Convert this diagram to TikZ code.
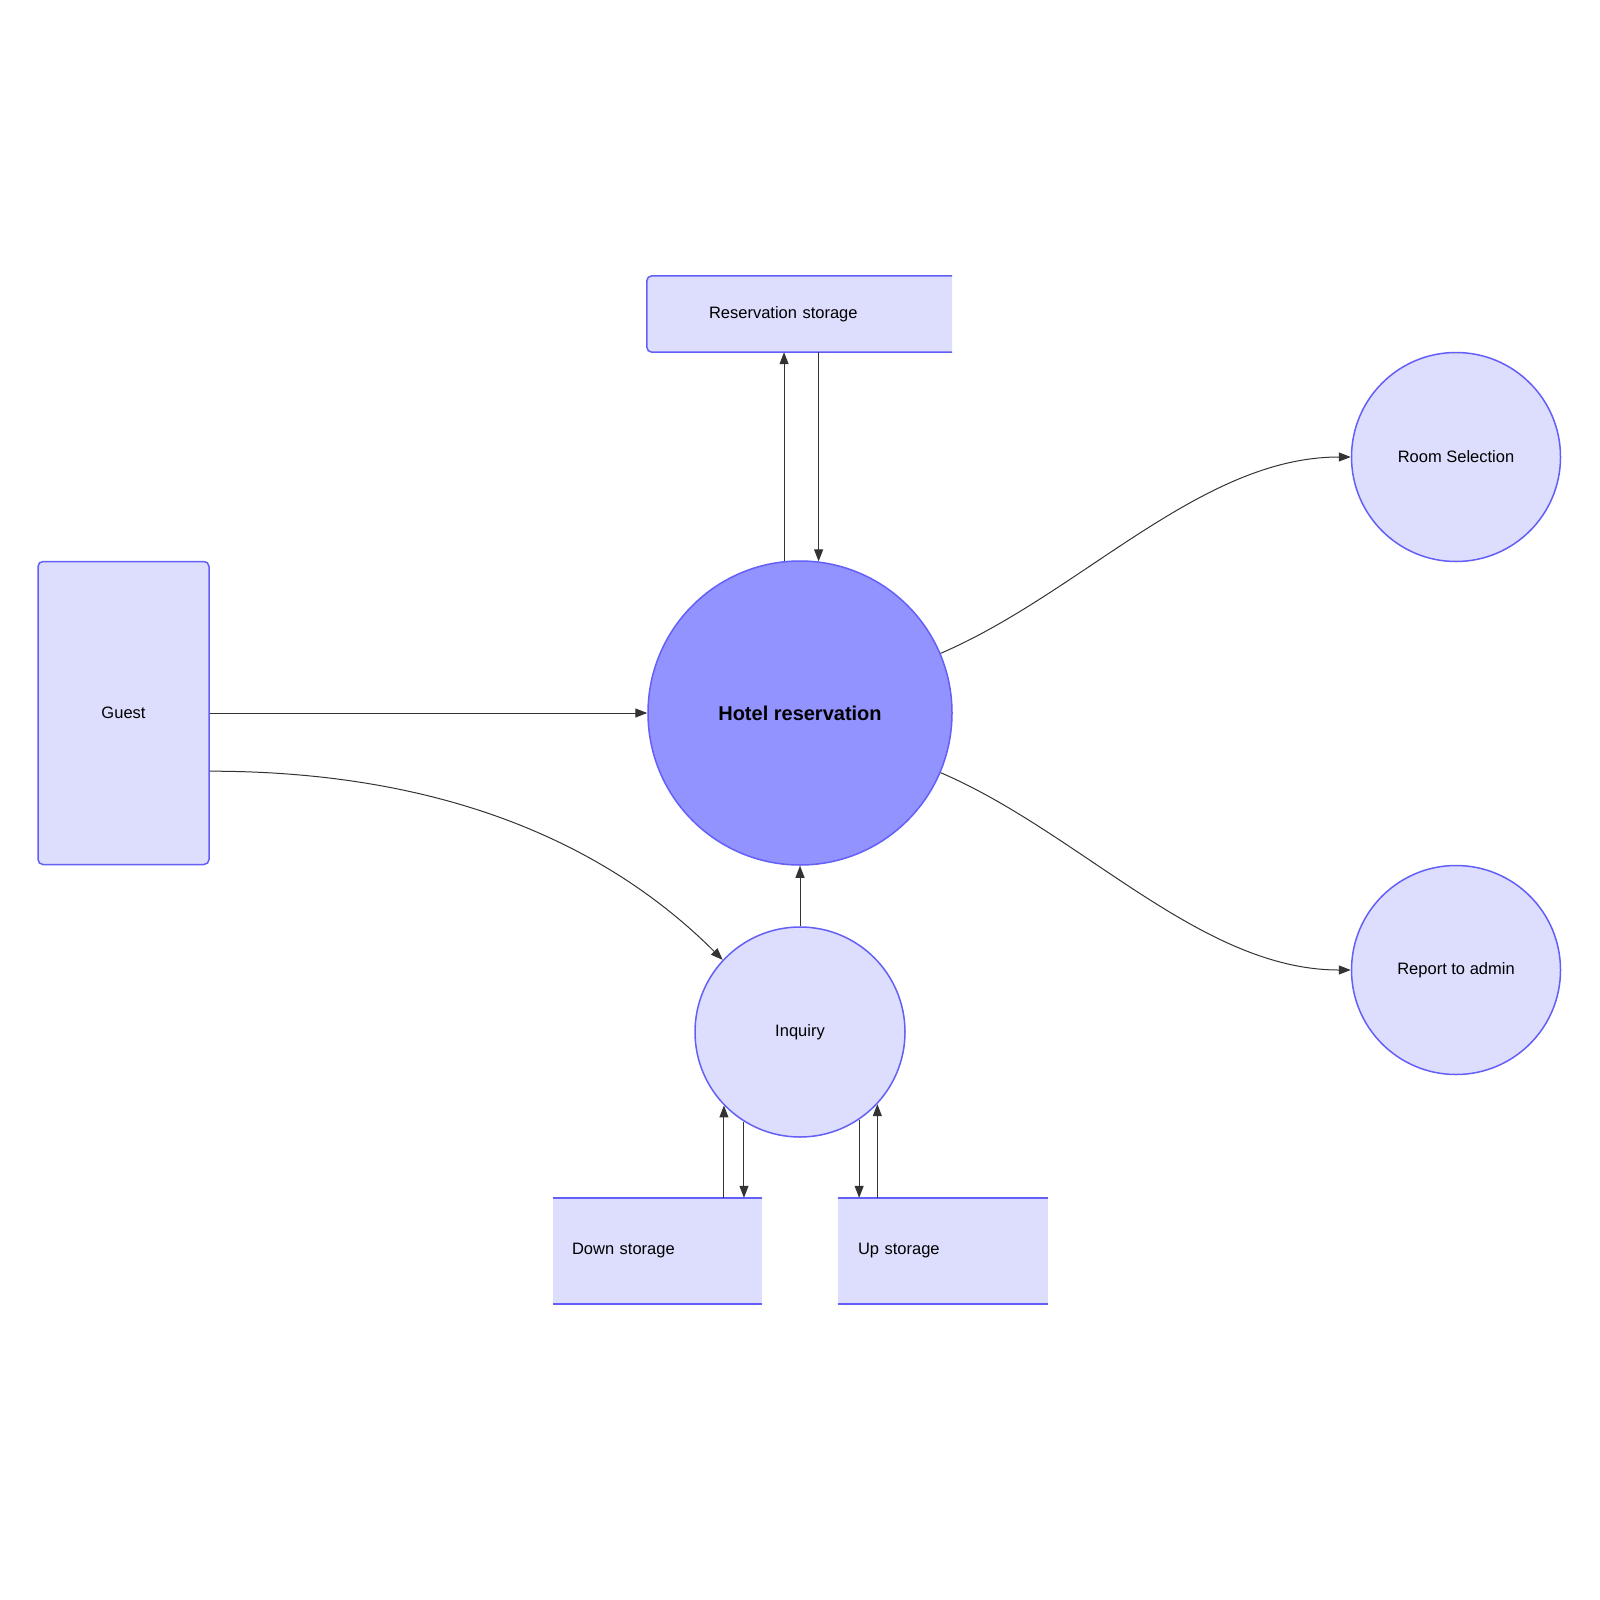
\documentclass[tikz,border=0pt]{standalone}
\usepackage{fontspec}
\setmainfont{Liberation Sans}
\usetikzlibrary{arrows.meta}

\definecolor{boxfill}{RGB}{221,221,253}
\definecolor{boxline}{RGB}{99,95,248}
\definecolor{mainfill}{RGB}{147,147,255}
\definecolor{flowgray}{RGB}{51,51,51}

\tikzset{
    flow/.style={-{Triangle[length=12pt,width=9pt]}, draw=flowgray, line width=1pt},
    rim/.style={draw=boxline, line width=1.5pt},
}

\begin{document}
\begin{tikzpicture}[x=1pt, y=-1pt, font=\fontsize{16.5}{20}\selectfont]
        \useasboundingbox (0,0) rectangle (1600,1600);
        \begin{scope}[every node/.style={circle,rim,fill=boxfill,inner sep=0pt}]
            \node[minimum size=304pt, fill=mainfill, font=\fontsize{20}{24}\selectfont\bfseries] (hotel) at (800,713) {Hotel reservation};
            \node[minimum size=209pt] (room) at (1456,457) {Room Selection};
            \node[minimum size=209pt] (report) at (1456,970) {Report to admin};
            \node[minimum size=210pt] (inquiry) at (800,1032) {Inquiry};
        \end{scope}
        \node[rectangle, rim, fill=boxfill, rounded corners=5pt, minimum width=171pt, minimum height=303pt] (guest) at (123.5,713) {Guest};
        \begin{scope}[every node/.style={rectangle,inner ysep=0pt,align=left}]
            \node[text width=181pt, inner xsep=62pt, minimum height=76pt] (resv) at (799.5,314) {};
            \node[fill=boxfill, text width=171pt, inner xsep=19pt, minimum height=106pt] (down) at (657.5,1251) {Down storage};
            \node[fill=boxfill, text width=170pt, inner xsep=20pt, minimum height=106pt] (up) at (943,1251) {Up storage};
        \end{scope}
        % storage outlines
        \filldraw[rim, fill=boxfill, rounded corners=5pt] (resv.north east) -- (resv.north west) -- (resv.south west) -- (resv.south east);
        \node[text width=181pt, inner xsep=62pt, inner ysep=0pt, align=left] at (resv) {Reservation storage};
        \draw[rim] (down.north west) -- (down.north east) (down.south west) -- (down.south east);
        \draw[rim] (up.north west) -- (up.north east) (up.south west) -- (up.south east);
        % flows
        \draw[flow] (guest) -- (hotel);
        \draw[flow] (guest.-34) .. controls +(250,0) and +(-106,-106) .. (inquiry.137);
        \draw[flow] (inquiry) -- (hotel);
        \draw[flow] (hotel.96) -- (hotel.96 |- resv.south);
        \draw[flow] (hotel.83 |- resv.south) -- (hotel.83);
        \draw[flow] (hotel.23) .. controls +(140,-60) and +(-150,0) .. (room.west);
        \draw[flow] (hotel.-23) .. controls +(140,60) and +(-150,0) .. (report.west);
        \draw[flow] (inquiry.224 |- down.north) -- (inquiry.224);
        \draw[flow] (inquiry.238) -- (inquiry.238 |- down.north);
        \draw[flow] (inquiry.-56) -- (inquiry.-56 |- up.north);
        \draw[flow] (inquiry.-43 |- up.north) -- (inquiry.-43);
    \end{tikzpicture}
\end{document}
